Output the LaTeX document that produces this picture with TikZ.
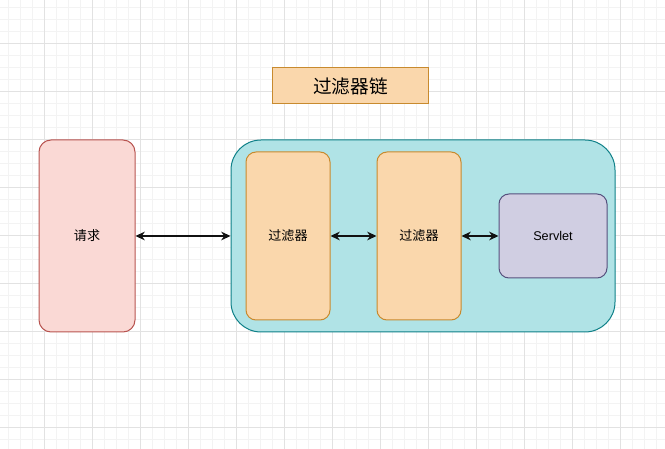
\documentclass[tikz,border=0pt]{standalone}
\usepackage{fontspec}
\setmainfont{Liberation Sans}
\newfontfamily\cjk{Noto Sans CJK SC}
\usetikzlibrary{arrows.meta,positioning}
\usepackage{xcolor}
\definecolor{fcGridMinor}{HTML}{F3F3F3}
\definecolor{fcGridMajor}{HTML}{E2E2E2}
\definecolor{fcOrangeFill}{HTML}{FAD7AC}
\definecolor{fcOrangeLine}{HTML}{C88A2E}
\definecolor{fcRedFill}{HTML}{FAD9D5}
\definecolor{fcRedLine}{HTML}{B85450}
\definecolor{fcTealFill}{HTML}{B0E3E6}
\definecolor{fcTealLine}{HTML}{0E8088}
\definecolor{fcPurpleFill}{HTML}{D0CEE2}
\definecolor{fcPurpleLine}{HTML}{56517E}
\definecolor{fcInk}{HTML}{111111}
\tikzset{
  box/.style={rectangle, line width=0.75pt, inner sep=0pt, align=center, font=\cjk\fontsize{9.8}{12}\selectfont},
  boxO/.style={box, fill=fcOrangeFill, draw=fcOrangeLine},
  boxR/.style={box, fill=fcRedFill, draw=fcRedLine, rounded corners=9pt},
  boxT/.style={box, fill=fcTealFill, draw=fcTealLine, rounded corners=22.5pt},
  boxP/.style={box, fill=fcPurpleFill, draw=fcPurpleLine, rounded corners=7.5pt},
  link/.style={{Stealth[length=7pt,width=6.5pt]}-{Stealth[length=7pt,width=6.5pt]}, line width=1pt, draw=fcInk},
}

\begin{document}
\begin{tikzpicture}[x=0.75pt, y=-0.75pt]
    \useasboundingbox (0,0) rectangle (665,449);
    % ---------- grid ----------
    \foreach \gx in {8,20,...,665} \draw[fcGridMinor, line width=0.6pt] (\gx,0) -- (\gx,449);
    \foreach \gy in {7,19,...,449} \draw[fcGridMinor, line width=0.6pt] (0,\gy) -- (665,\gy);
    \foreach \gx in {44,92,...,665} \draw[fcGridMajor, line width=0.6pt] (\gx,0) -- (\gx,449);
    \foreach \gy in {43,91,...,449} \draw[fcGridMajor, line width=0.6pt] (0,\gy) -- (665,\gy);
    % ---------- title ----------
    \node[boxO, minimum width=117pt, minimum height=27pt, font=\cjk\fontsize{14}{16}\selectfont] (title) at (350.5,86) {过滤器链};
    % ---------- request ----------
    \node[boxR, minimum width=72pt, minimum height=144pt] (req) at (87,236) {请求};
    % ---------- filter chain ----------
    \node[boxT, minimum width=288pt, minimum height=144pt] (chain) at (423,236) {};
    \node[boxO, rounded corners=7.5pt, minimum width=63pt, minimum height=126pt] (filterA) at (288,236) {过滤器};
    \node[boxO, rounded corners=7.5pt, minimum width=63pt, minimum height=126pt] (filterB) at (419,236) {过滤器};
    \node[boxP, minimum width=81pt, minimum height=63pt, font=\fontsize{9.5}{11}\selectfont] (servlet) at (553,236) {Servlet};
    % ---------- links ----------
    \draw[link] (req.east) -- (chain.west);
    \draw[link] (filterA.east) -- (filterB.west);
    \draw[link] (filterB.east) -- (servlet.west);
\end{tikzpicture}
\end{document}
